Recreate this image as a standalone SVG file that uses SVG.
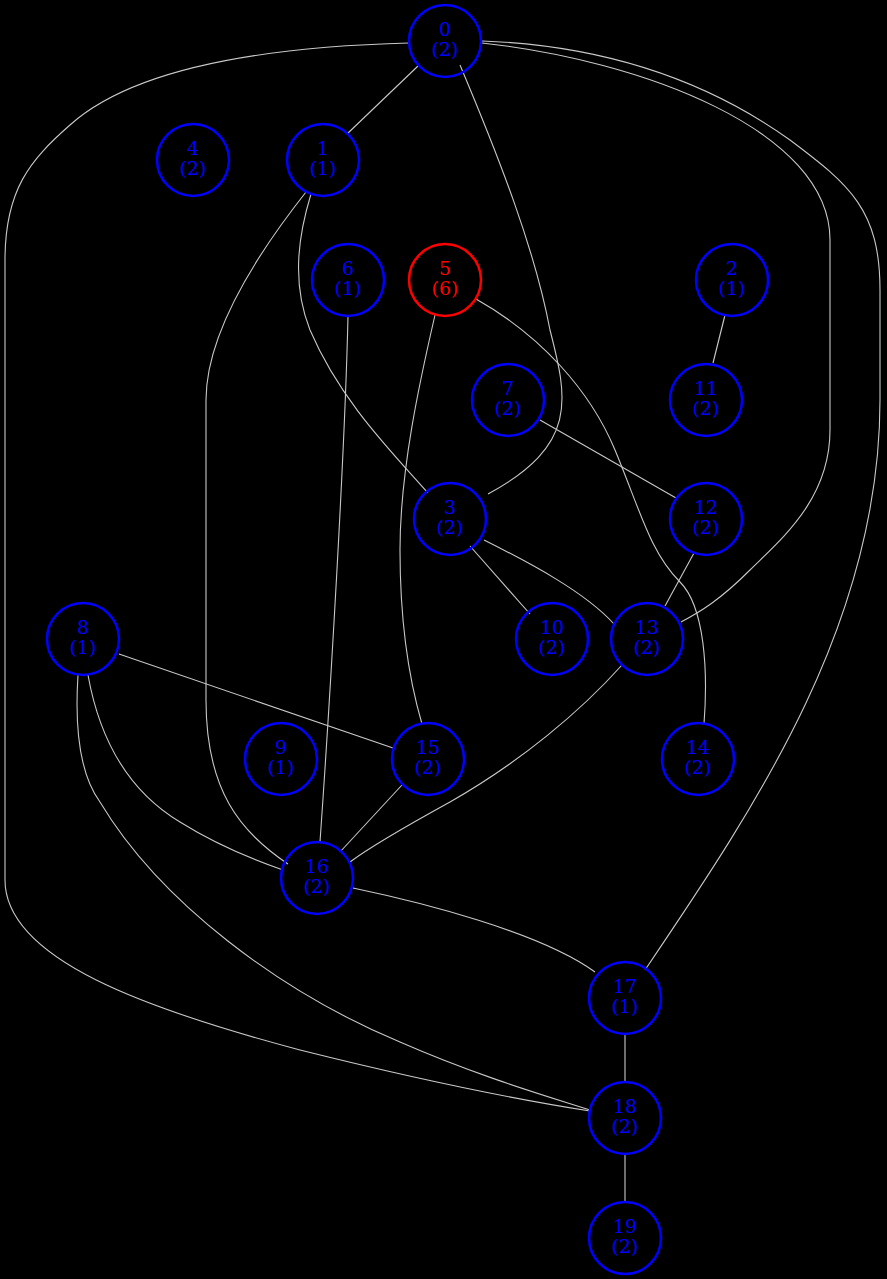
<svg xmlns="http://www.w3.org/2000/svg" width="887" height="1279" viewBox="0 0 887 1279">
<style>
.bg{fill:#000}
.e{fill:none;stroke:#c8c8c8;stroke-width:1.1}
.n circle{fill:none;stroke:#0000ff;stroke-width:2.5}
.n text{fill:#0000ff;font-family:"DejaVu Serif","Liberation Serif",serif;font-size:19px;text-anchor:middle}
.r circle{stroke:#ff0000}
.r text{fill:#ff0000}
</style>
<rect class="bg" x="0" y="0" width="887" height="1279"/>
<g id="edges">
<path class="e" d="M418,66 L347,134"/>
<path class="e" d="M460,65 C500,160 535,250 550,330 C568,400 578,445 488,494"/>
<path class="e" d="M482,43 C640,60 830,130 830,240 L830,430 C830,500 780,540 750,570 C720,600 700,612 681,622"/>
<path class="e" d="M482,41 C620,46 720,90 790,140 C850,185 880,210 880,290 L880,400 C880,620 760,800 645,970"/>
<path class="e" d="M409,43 C220,48 120,80 70,125 C30,160 5,190 5,260 L5,880 C5,960 150,1010 300,1050 C420,1080 520,1100 590,1111"/>
<path class="e" d="M311,194 C300,230 290,280 310,330 C340,400 390,450 428,493"/>
<path class="e" d="M306,192 C280,225 206,320 206,400 L206,700 C206,790 240,832 288,864"/>
<path class="e" d="M348,316 C345,450 330,700 320,842"/>
<path class="e" d="M435,315 C420,380 400,470 400,550 C400,640 415,700 422,724"/>
<path class="e" d="M476,299 C540,335 590,390 615,450 C640,510 650,552 680,582 C705,607 708,672 704,724"/>
<path class="e" d="M725,315 L713,363"/>
<path class="e" d="M540,420 L676,498"/>
<path class="e" d="M470,546 L530,614"/>
<path class="e" d="M484,540 C530,563 585,592 614,624"/>
<path class="e" d="M694,553 L665,606"/>
<path class="e" d="M622,665 C580,712 520,762 450,802 C410,824 370,847 350,862"/>
<path class="e" d="M119,654 L393,748"/>
<path class="e" d="M88,675 C100,742 130,792 180,822 C220,847 260,862 283,870"/>
<path class="e" d="M78,675 C75,722 78,772 100,802 C160,902 280,992 400,1042 C480,1077 550,1097 590,1110"/>
<path class="e" d="M402,785 L340,852"/>
<path class="e" d="M353,888 C420,902 540,932 595,972"/>
<path class="e" d="M625,1034 L625,1082"/>
<path class="e" d="M625,1154 L625,1202"/>
</g>
<g id="n0" class="n"><circle cx="445" cy="41" r="36"/><text x="445" y="36">0</text><text x="445" y="56">(2)</text></g>
<g id="n1" class="n"><circle cx="323" cy="160" r="36"/><text x="323" y="155">1</text><text x="323" y="175">(1)</text></g>
<g id="n4" class="n"><circle cx="193" cy="160" r="36"/><text x="193" y="155">4</text><text x="193" y="175">(2)</text></g>
<g id="n6" class="n"><circle cx="348" cy="280" r="36"/><text x="348" y="275">6</text><text x="348" y="295">(1)</text></g>
<g id="n5" class="n r"><circle cx="445" cy="280" r="36"/><text x="445" y="275">5</text><text x="445" y="295">(6)</text></g>
<g id="n2" class="n"><circle cx="732" cy="280" r="36"/><text x="732" y="275">2</text><text x="732" y="295">(1)</text></g>
<g id="n7" class="n"><circle cx="508" cy="400" r="36"/><text x="508" y="395">7</text><text x="508" y="415">(2)</text></g>
<g id="n11" class="n"><circle cx="706" cy="400" r="36"/><text x="706" y="395">11</text><text x="706" y="415">(2)</text></g>
<g id="n3" class="n"><circle cx="450" cy="519" r="36"/><text x="450" y="514">3</text><text x="450" y="534">(2)</text></g>
<g id="n12" class="n"><circle cx="706" cy="519" r="36"/><text x="706" y="514">12</text><text x="706" y="534">(2)</text></g>
<g id="n8" class="n"><circle cx="83" cy="639" r="36"/><text x="83" y="634">8</text><text x="83" y="654">(1)</text></g>
<g id="n10" class="n"><circle cx="552" cy="639" r="36"/><text x="552" y="634">10</text><text x="552" y="654">(2)</text></g>
<g id="n13" class="n"><circle cx="647" cy="639" r="36"/><text x="647" y="634">13</text><text x="647" y="654">(2)</text></g>
<g id="n9" class="n"><circle cx="281" cy="759" r="36"/><text x="281" y="754">9</text><text x="281" y="774">(1)</text></g>
<g id="n15" class="n"><circle cx="428" cy="759" r="36"/><text x="428" y="754">15</text><text x="428" y="774">(2)</text></g>
<g id="n14" class="n"><circle cx="698" cy="759" r="36"/><text x="698" y="754">14</text><text x="698" y="774">(2)</text></g>
<g id="n16" class="n"><circle cx="317" cy="878" r="36"/><text x="317" y="873">16</text><text x="317" y="893">(2)</text></g>
<g id="n17" class="n"><circle cx="625" cy="998" r="36"/><text x="625" y="993">17</text><text x="625" y="1013">(1)</text></g>
<g id="n18" class="n"><circle cx="625" cy="1118" r="36"/><text x="625" y="1113">18</text><text x="625" y="1133">(2)</text></g>
<g id="n19" class="n"><circle cx="625" cy="1238" r="36"/><text x="625" y="1233">19</text><text x="625" y="1253">(2)</text></g>
</svg>
